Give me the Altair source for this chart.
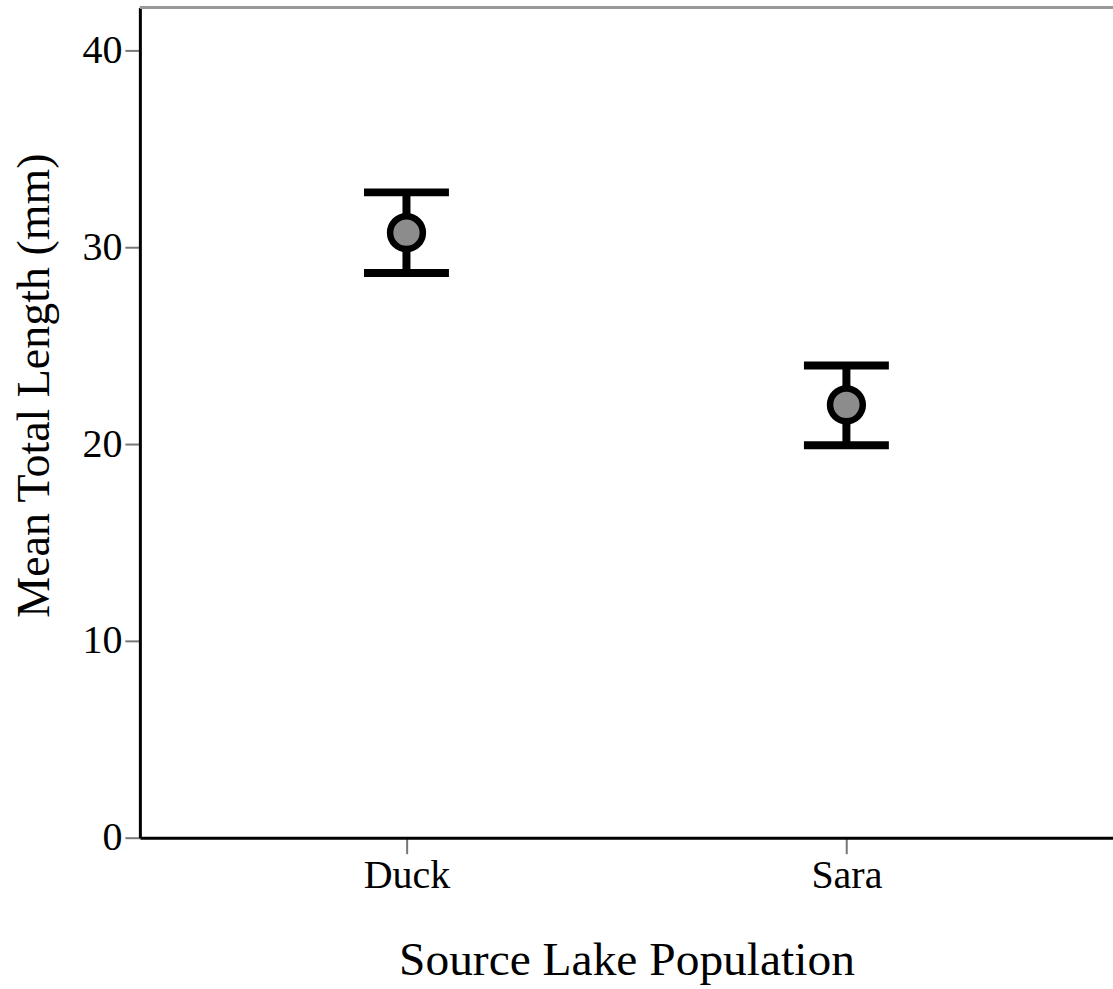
import altair as alt
import pandas as pd

lakes = ["Duck", "Sara"]
means = [30.75, 22.0]
lower = [28.7, 19.95]
upper = [32.8, 24.0]

df = pd.DataFrame({"lake": lakes, "mean": means, "lo": lower, "hi": upper})

FONT = "Liberation Serif"
xscale = alt.Scale(type="point", padding=0.606)
yscale = alt.Scale(domain=[0, 42.2], nice=False, zero=False)

xenc = alt.X("lake:N", scale=xscale, sort=lakes,
             axis=alt.Axis(title="Source Lake Population", labelAngle=0,
                           titleFontSize=47.5, labelFontSize=40, labelFont=FONT, titleFont=FONT,
                           titleFontWeight="normal", labelColor="black", titleColor="black",
                           domainColor="black", domainWidth=3, tickColor="#777", tickWidth=2,
                           tickSize=16, labelPadding=2, titleY=137, titleBaseline="alphabetic"))

yaxis = alt.Axis(title="Mean Total Length (mm)", values=[0, 10, 20, 30, 40], grid=False,
                 titleFontSize=46, labelFontSize=40, labelFont=FONT, titleFont=FONT,
                 titleFontWeight="normal", labelColor="black", titleColor="black",
                 domainColor="black", domainWidth=3, tickColor="#777", tickWidth=2,
                 tickSize=15, labelPadding=3, titleAngle=-90, titleX=-105, titleY=378,
                 titleBaseline="middle", titleAlign="center")

base = alt.Chart(df)

top_border = base.mark_rule(color="#999", strokeWidth=3).encode(
    x=alt.value(0), x2=alt.value(980), y=alt.value(0))

stem = base.mark_rule(color="black", strokeWidth=8).encode(
    x=xenc, y=alt.Y("lo:Q", scale=yscale, axis=yaxis), y2="hi:Q")

cap_hi = base.mark_tick(color="black", thickness=8, size=85, opacity=1).encode(
    x=xenc, y=alt.Y("hi:Q", scale=yscale))
cap_lo = base.mark_tick(color="black", thickness=8, size=85, opacity=1).encode(
    x=xenc, y=alt.Y("lo:Q", scale=yscale))

pt = base.mark_point(shape="circle", filled=True, fill="#8c8c8c", stroke="black",
                     strokeWidth=6.5, size=1075, opacity=1).encode(
    x=xenc, y=alt.Y("mean:Q", scale=yscale))

chart = alt.layer(top_border, stem, cap_hi, cap_lo, pt).properties(
    width=974, height=831,
    padding={"left": 140, "top": 7, "right": 0, "bottom": 151},
    autosize=alt.AutoSizeParams(type="none"),
    background="white",
).configure_view(strokeWidth=0)

chart.save("out.html", embed_options={"renderer": "svg", "actions": False})
